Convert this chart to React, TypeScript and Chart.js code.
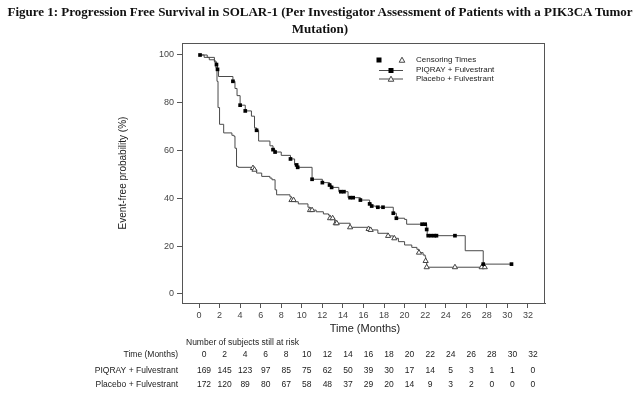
import React, { useEffect, useRef } from "react";
import { Chart, registerables } from "chart.js";

Chart.register(...registerables);

// ---- Data ----
const xTicks = [0, 2, 4, 6, 8, 10, 12, 14, 16, 18, 20, 22, 24, 26, 28, 30, 32];
const yTicks = [0, 20, 40, 60, 80, 100];

const piqTime = [0, 0.5, 1.0, 1.5, 1.7, 1.8, 1.9, 3.3, 3.5, 3.7, 4.0, 4.5, 5.1, 5.4, 5.6, 5.8, 6.9, 7.2, 7.4, 8.0, 8.9, 9.3, 9.6, 11.0, 12.0, 12.7, 12.9, 13.6, 14.5, 15.7, 16.6, 16.8, 17.2, 18.9, 19.2, 20.0, 20.2, 22.15, 22.2, 25.9, 27.65, 30.4];
const piqSurv = [100, 99, 98, 97, 96, 94, 91, 89, 86, 83, 79, 76.6, 74.4, 69.5, 68.5, 64, 62, 60.4, 59.4, 58, 56.5, 54, 53, 48, 46.6, 45.6, 44.6, 42.8, 40.3, 39.3, 37.7, 36.8, 36.3, 33.8, 31.7, 31.2, 29.2, 27, 24.4, 18.1, 12.5, 12.5];

const piqCensTime = [0.1, 1.7, 1.8, 3.3, 4.0, 4.5, 5.6, 7.2, 7.4, 8.9, 9.5, 9.6, 11.0, 12.0, 12.7, 12.9, 13.8, 14.1, 14.7, 15.0, 15.7, 16.6, 16.8, 17.4, 17.9, 18.9, 19.2, 21.7, 22.0, 22.15, 22.3, 22.6, 22.9, 23.1, 24.9, 27.65, 30.4];
const piqCensSurv = [100, 96, 94, 89, 79, 76.6, 68.5, 60.4, 59.4, 56.5, 54, 53, 48, 46.6, 45.6, 44.6, 42.8, 42.8, 40.3, 40.3, 39.3, 37.7, 36.8, 36.3, 36.3, 33.8, 31.7, 29.2, 29.2, 27, 24.4, 24.4, 24.4, 24.4, 24.4, 12.5, 12.5];

const plaTime = [0, 0.8, 1.5, 1.65, 1.75, 1.85, 2.0, 2.4, 3.2, 3.4, 3.5, 3.65, 3.8, 5.1, 5.35, 5.6, 6.1, 6.9, 7.1, 7.4, 7.55, 8.85, 9.0, 9.3, 9.66, 10.6, 10.8, 11.4, 12.1, 12.6, 12.75, 13.2, 14.7, 16.5, 16.7, 17.4, 18.4, 18.9, 19.4, 20.0, 20.7, 21.2, 21.4, 21.8, 22.0, 22.05, 22.15, 27.8];
const plaSurv = [100, 99, 97.5, 94.6, 89, 78, 71, 67.4, 66.4, 66, 61, 53.4, 53, 52.7, 52, 50.6, 49.2, 48.5, 47.8, 43.6, 41.5, 40.7, 39.3, 38.6, 37.7, 36.3, 35.1, 34.4, 33.5, 33, 31.7, 29.6, 27.9, 27.2, 26.8, 25.4, 24.3, 23.3, 21.9, 20.5, 19.5, 18.7, 17.3, 16.3, 15.6, 13.8, 11.2, 11.2];

const plaCensTime = [5.25, 5.4, 9.0, 9.2, 10.8, 11.0, 12.75, 13.0, 13.3, 13.4, 14.7, 16.5, 16.7, 18.4, 19.0, 21.4, 22.05, 22.15, 24.9, 27.5, 27.8];
const plaCensSurv = [52.7, 52, 39.3, 39.3, 35.1, 35.1, 31.7, 31.7, 29.6, 29.6, 27.9, 27.2, 26.8, 24.3, 23.3, 17.3, 13.8, 11.2, 11.2, 11.2, 11.2];

const riskTimes = xTicks;
const piqRisk = [169, 145, 123, 97, 85, 75, 62, 50, 39, 30, 17, 14, 5, 3, 1, 1, 0];
const plaRisk = [172, 120, 89, 80, 67, 58, 48, 37, 29, 20, 14, 9, 3, 2, 0, 0, 0];

const titleLine1 = "Figure 1: Progression Free Survival in SOLAR-1 (Per Investigator Assessment of Patients with a PIK3CA Tumor";
const titleLine2 = "Mutation)";
const xTitle = "Time (Months)";
const yTitle = "Event-free probability (%)";
const legendLabels = ["Censoring Times", "PIQRAY + Fulvestrant", "Placebo + Fulvestrant"];
const riskHeader = "Number of subjects still at risk";
const riskRowLabels = ["Time (Months)", "PIQRAY + Fulvestrant", "Placebo + Fulvestrant"];

const toPts = (t: number[], s: number[]) => t.map((x, i) => ({ x, y: s[i] }));

const SANS = "'Liberation Sans', Arial, sans-serif";
const LINE = "#4a4a4a";
const AXIS = "#555";

function drawSquare(ctx: CanvasRenderingContext2D, x: number, y: number, r: number) {
  ctx.fillStyle = "#000";
  ctx.fillRect(x - r, y - r, 2 * r, 2 * r);
}
function drawTri(ctx: CanvasRenderingContext2D, x: number, y: number, r: number) {
  ctx.beginPath();
  ctx.moveTo(x, y - r);
  ctx.lineTo(x + r, y + r * 0.8);
  ctx.lineTo(x - r, y + r * 0.8);
  ctx.closePath();
  ctx.fillStyle = "#fff";
  ctx.fill();
  ctx.strokeStyle = "#444";
  ctx.lineWidth = 1;
  ctx.stroke();
}

export default function App() {
  const ref = useRef<HTMLCanvasElement>(null);

  useEffect(() => {
    if (!ref.current) return;
    const extras = {
      id: "extras",
      afterDraw(chart: any) {
        const { ctx, chartArea: a, scales } = chart;
        const xs = scales.x;
        ctx.save();
        // top & right frame
        ctx.strokeStyle = AXIS;
        ctx.lineWidth = 1;
        ctx.beginPath();
        ctx.moveTo(a.left, Math.round(a.top) + 0.5);
        ctx.lineTo(a.right, Math.round(a.top) + 0.5);
        ctx.moveTo(Math.round(a.right) - 0.5, a.top);
        ctx.lineTo(Math.round(a.right) - 0.5, a.bottom);
        ctx.stroke();

        // legend
        const lx = 379, ly = [60, 70, 78.5], tx = 416;
        drawSquare(ctx, lx, ly[0], 2.5);
        drawTri(ctx, lx + 23, ly[0], 2.8);
        ctx.strokeStyle = LINE;
        ctx.beginPath();
        ctx.moveTo(lx, ly[1] + 0.5); ctx.lineTo(lx + 24, ly[1] + 0.5);
        ctx.moveTo(lx, ly[2] + 0.5); ctx.lineTo(lx + 24, ly[2] + 0.5);
        ctx.stroke();
        drawSquare(ctx, lx + 12, ly[1] + 0.5, 2.5);
        drawTri(ctx, lx + 12, ly[2] + 0.5, 2.8);
        ctx.fillStyle = "#222";
        ctx.font = `8px ${SANS}`;
        ctx.textAlign = "left";
        ctx.textBaseline = "middle";
        legendLabels.forEach((l, i) => ctx.fillText(l, tx, ly[i]));

        // axis titles
        ctx.fillStyle = "#222";
        ctx.font = `11px ${SANS}`;
        ctx.textAlign = "center";
        ctx.fillText(xTitle, 365, 329);
        ctx.save();
        ctx.translate(123, 173);
        ctx.rotate(-Math.PI / 2);
        ctx.font = `10px ${SANS}`;
        ctx.fillText(yTitle, 0, 0);
        ctx.restore();

        // risk table
        ctx.font = `8.5px ${SANS}`;
        ctx.fillStyle = "#222";
        ctx.textAlign = "left";
        ctx.fillText(riskHeader, 186, 343);
        const rowsY = [355, 371, 385];
        ctx.textAlign = "right";
        riskRowLabels.forEach((l, i) => ctx.fillText(l, 178, rowsY[i]));
        ctx.textAlign = "center";
        riskTimes.forEach((t, i) => {
          const px = xs.getPixelForValue(t) + 5;
          ctx.fillText(String(t), px, rowsY[0]);
          ctx.fillText(String(piqRisk[i]), px, rowsY[1]);
          ctx.fillText(String(plaRisk[i]), px, rowsY[2]);
        });
        ctx.restore();
      },
    };

    const chart = new Chart(ref.current, {
      type: "line",
      data: {
        datasets: [
          {
            label: "PIQRAY + Fulvestrant",
            data: toPts(piqTime, piqSurv),
            stepped: "before",
            borderColor: LINE,
            borderWidth: 1,
            pointRadius: 0,
            fill: false,
            order: 2,
          },
          {
            label: "Placebo + Fulvestrant",
            data: toPts(plaTime, plaSurv),
            stepped: "before",
            borderColor: LINE,
            borderWidth: 1,
            pointRadius: 0,
            fill: false,
            order: 2,
          },
          {
            type: "scatter",
            label: "Placebo censored",
            data: toPts(plaCensTime, plaCensSurv),
            pointStyle: "triangle",
            pointRadius: 3,
            backgroundColor: "#fff",
            borderColor: "#444",
            borderWidth: 1,
            showLine: false,
            order: 1,
          },
          {
            type: "scatter",
            label: "PIQRAY censored",
            data: toPts(piqCensTime, piqCensSurv),
            pointStyle: "rect",
            pointRadius: 2.6,
            backgroundColor: "#000",
            borderColor: "#000",
            borderWidth: 0,
            showLine: false,
            order: 0,
          },
        ] as any,
      },
      options: {
        animation: false,
        responsive: false,
        maintainAspectRatio: false,
        layout: { padding: { top: 43, right: 95, left: 0, bottom: 0 } },
        plugins: { legend: { display: false }, tooltip: { enabled: false }, title: { display: false } },
        scales: {
          x: {
            type: "linear",
            min: -1.654,
            max: 33.66,
            afterFit: (s: any) => { s.height = 95; },
            afterBuildTicks: (s: any) => { s.ticks = xTicks.map((v) => ({ value: v })); },
            grid: { drawOnChartArea: false, drawTicks: true, tickLength: 5, color: AXIS },
            border: { display: true, color: AXIS, width: 1 },
            ticks: { font: { size: 9, family: SANS }, color: "#444", padding: 2, maxRotation: 0, autoSkip: false },
          },
          y: {
            type: "linear",
            min: -3.77,
            max: 105.02,
            afterFit: (s: any) => { s.width = 182; },
            afterBuildTicks: (s: any) => { s.ticks = yTicks.map((v) => ({ value: v })); },
            grid: { drawOnChartArea: false, drawTicks: true, tickLength: 5, color: AXIS },
            border: { display: true, color: AXIS, width: 1 },
            ticks: { font: { size: 9, family: SANS }, color: "#444", padding: 3, autoSkip: false },
          },
        },
      } as any,
      plugins: [extras],
    });
    return () => chart.destroy();
  }, []);

  return (
    <div style={{ position: "fixed", left: 0, top: 0, width: 640, height: 398, background: "#fff" }}>
      <canvas ref={ref} width={640} height={398} style={{ position: "absolute", left: 0, top: 0, width: 640, height: 398 }} />
      <div
        style={{
          position: "absolute",
          left: 0,
          top: 3,
          width: 640,
          textAlign: "center",
          fontFamily: "'Liberation Serif', 'Times New Roman', serif",
          fontWeight: "bold",
          fontSize: 13,
          lineHeight: "17px",
          color: "#111",
          whiteSpace: "nowrap",
        }}
      >
        {titleLine1}
        <br />
        {titleLine2}
      </div>
    </div>
  );
}
